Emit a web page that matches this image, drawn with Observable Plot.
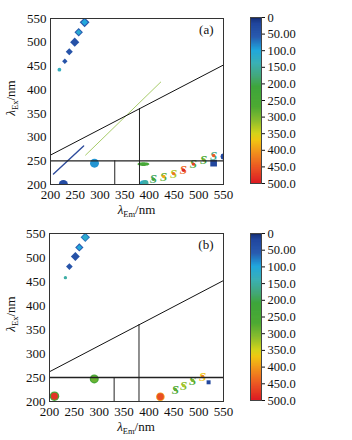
<!DOCTYPE html>
<html><head><meta charset="utf-8">
<script src="https://cdn.jsdelivr.net/npm/d3@7"></script>
<script src="https://cdn.jsdelivr.net/npm/@observablehq/plot@0.6"></script>
<style>
body{margin:0;background:#fff;}
#wrap{position:relative;width:352px;height:440px;overflow:hidden;font-family:"Liberation Serif",serif;}
.p{position:absolute;}
</style></head><body><div id="wrap"></div>
<script>
// ---- axis ticks ----
const axisTicks = [200, 250, 300, 350, 400, 450, 500, 550];
const barTicks = [0, 50, 100, 150, 200, 250, 300, 350, 400, 450, 500];
const barTickLabels = ["0", "50.00", "100.0", "150.0", "200.0", "250.0", "300.0", "350.0", "400.0", "450.0", "500.0"];
// ---- colour ramp ----
const colorStops = [0, 6, 20, 60, 80, 100, 140, 180, 210, 270, 310, 350, 370, 400, 450, 500];
const colorHex = ["#0d1428", "#1a3580", "#22479e", "#2a5cb0", "#2482c8", "#22a8dc", "#3cb0b4", "#44a878", "#3fa63c", "#4eaa34", "#88bc30", "#d4d41c", "#f0c814", "#f29c1c", "#ec5a24", "#dc1c24"];
// ---- region boundaries (Em, Ex in nm) ----
const ruleEx = [250];
const ruleEm = [330, 380];
const ruleEmTop = [250, 360];
const diagEm = [200, 550];
const diagEx = [262, 452];

// ---- panel (a) ----
const aEm  = [218, 229, 238, 249, 257, 269, 257, 269, 226, 289, 530, 550, 388, 392];
const aEx  = [442, 460, 480, 500, 521, 542, 521, 542, 200, 245, 245, 259, 201, 203];
const aVal = [130, 45, 45, 40, 60, 50, 110, 100, 30, 90, 20, 20, 120, 150];
const aR   = [0.6, 1, 1.7, 2.9, 2.5, 3.3, 1.1, 1.5, 3.5, 3.4, 2.4, 1.5, 2.4, 1.6];
const aSym = ["circle", "diamond2", "diamond2", "diamond2", "diamond2", "diamond2", "diamond2", "diamond2", "circle", "circle", "square", "circle", "circle", "circle"];
const aEllEm = [388], aEllEx = [243], aEllVal = [240];
const aSEm = [408, 429, 449, 469, 489, 510, 530];
const aSEx = [211, 217, 223, 230, 243, 252, 261];
const aSOuter = [190, 280, 330, 440, 260, 250, 170];
const aSInner = [230, 390, 430, 490, 470, 300, 450];
const aScatBlueEm = [206, 267], aScatBlueEx = [222, 281];
const aScatGreenEm = [271, 423], aScatGreenEx = [262, 416];

// ---- panel (b) ----
const bEm  = [232, 240, 252, 260, 272, 260, 272, 290, 290, 210, 210, 423, 423, 520];
const bEx  = [458, 481, 502, 521, 542, 521, 542, 247, 247, 211, 211, 210, 210, 240];
const bVal = [150, 45, 40, 55, 70, 100, 115, 250, 290, 240, 480, 400, 460, 20];
const bR   = [0.5, 1.6, 2.9, 2.5, 3.2, 1.1, 1.6, 3.6, 1.8, 4, 2.1, 3.3, 2, 0.9];
const bSym = ["circle", "diamond2", "diamond2", "diamond2", "diamond2", "diamond2", "diamond2", "circle", "circle", "circle", "circle", "circle", "circle", "square"];
const bSEm = [453, 470, 488, 508];
const bSEx = [225, 233, 244, 252];
const bSOuter = [260, 310, 270, 370];
const bSInner = [280, 330, 300, 420];

const colorScale = {type: "linear", domain: colorStops, range: colorHex, interpolate: "rgb"};

const ellipseSymbol = {
  draw(ctx, size) {
    const r = Math.sqrt(size / Math.PI);
    const rx = r * 2.3, ry = r * 0.75, k = 0.5523;
    ctx.moveTo(-rx, 0);
    ctx.bezierCurveTo(-rx, -ry * k, -rx * k, -ry, 0, -ry);
    ctx.bezierCurveTo(rx * k, -ry, rx, -ry * k, rx, 0);
    ctx.bezierCurveTo(rx, ry * k, rx * k, ry, 0, ry);
    ctx.bezierCurveTo(-rx * k, ry, -rx, ry * k, -rx, 0);
    ctx.closePath();
  }
};

function rows(em, ex, extra) {
  return em.map((e, i) => {
    const o = {em: e, ex: ex[i]};
    for (const k in extra) o[k] = extra[k][i];
    return o;
  });
}

function panel(opts) {
  const pts = rows(opts.em, opts.ex, {val: opts.val, r: opts.r, sym: opts.sym});
  const sPts = rows(opts.sEm, opts.sEx, {outer: opts.sOuter, inner: opts.sInner});
  const marks = [];
  if (opts.blue) {
    marks.push(Plot.line(rows(opts.blue[0], opts.blue[1], {}), {x: "em", y: "ex", stroke: "#2e4c9c", strokeWidth: 1.4}));
    marks.push(Plot.line(rows(opts.green[0], opts.green[1], {}), {x: "em", y: "ex", stroke: "#a8cc6a", strokeWidth: 1}));
  }
  if (opts.ell) {
    marks.push(Plot.dot(rows(opts.ell[0], opts.ell[1], {val: opts.ell[2]}), {x: "em", y: "ex", fill: "val", r: 2.6, symbol: ellipseSymbol}));
  }
  for (const s of ["circle", "diamond2", "square"]) {
    marks.push(Plot.dot(pts.filter(d => d.sym === s), {x: "em", y: "ex", fill: "val", r: "r", symbol: s, stroke: "none"}));
  }
  marks.push(Plot.text(sPts, {x: "em", y: "ex", text: () => "S", fill: "outer", fontSize: 13, fontWeight: "bold", fontStyle: "italic", fontFamily: "Liberation Serif"}));
  marks.push(Plot.dot(sPts, {x: "em", y: "ex", fill: "inner", r: 1.7}));
  // boundaries
  marks.push(Plot.ruleY(ruleEx, {stroke: "#222", strokeWidth: 1.3}));
  marks.push(Plot.ruleX(ruleEm, {y1: 200, y2: ruleEmTop, stroke: "#222", strokeWidth: 1}));
  marks.push(Plot.line(rows(diagEm, diagEx, {}), {x: "em", y: "ex", stroke: "#111", strokeWidth: 1}));
  marks.push(Plot.frame({stroke: "#333", strokeWidth: 1}));
  marks.push(Plot.axisX({ticks: axisTicks, tickSize: 0, tickPadding: 5, label: null, fontSize: 13}));
  marks.push(Plot.axisY({ticks: axisTicks, tickSize: 0, tickPadding: 4, label: null, fontSize: 13}));
  marks.push(Plot.text([opts.tag], {frameAnchor: "top-right", dx: -10, dy: 6, text: d => d, fontSize: 13, fontFamily: "Liberation Serif", fill: "#111"}));
  const svg = Plot.plot({
    width: 240, height: 220,
    marginLeft: opts.ml, marginRight: 17, marginTop: opts.mt, marginBottom: opts.mb,
    x: {domain: [200, 550]},
    y: {domain: [200, 550]},
    color: colorScale,
    clip: true,
    style: {fontFamily: "Liberation Serif", fontSize: "13px", color: "#111", background: "transparent", overflow: "visible"},
    marks
  });
  const s = d3.select(svg);
  const cx = (opts.ml + 223) / 2;
  const xl = s.append("text").attr("x", cx).attr("y", 220 - opts.mb + 30).attr("text-anchor", "middle")
    .attr("font-family", "Liberation Serif").attr("font-size", 13).attr("fill", "#111");
  xl.append("tspan").attr("font-style", "italic").text("λ");
  xl.append("tspan").attr("font-size", 8.5).attr("dy", 3).text("Em");
  xl.append("tspan").attr("dy", -3).text("/nm");
  const cy = (opts.mt + 220 - opts.mb) / 2 - 3;
  const yl = s.append("text").attr("transform", `translate(15,${cy}) rotate(-90)`).attr("text-anchor", "middle")
    .attr("font-family", "Liberation Serif").attr("font-size", 13).attr("fill", "#111");
  yl.append("tspan").attr("font-style", "italic").text("λ");
  yl.append("tspan").attr("font-size", 8.5).attr("dy", 3).text("Ex");
  yl.append("tspan").attr("dy", -3).text("/nm");
  return svg;
}

function colorbar(mt, mb) {
  const steps = d3.range(0, 500, 1);
  return Plot.plot({
    width: 112, height: 220,
    marginLeft: 10, marginRight: 91, marginTop: mt, marginBottom: mb,
    x: {domain: [0, 1], axis: null},
    y: {domain: [0, 500], reverse: true},
    color: colorScale,
    style: {fontFamily: "Liberation Serif", fontSize: "12.5px", color: "#111", background: "transparent", overflow: "visible"},
    marks: [
      Plot.rect(steps, {x1: 0, x2: 1, y1: d => d, y2: d => Math.min(500, d + 4), fill: d => d + 0.5}),
      Plot.frame({stroke: "#444", strokeWidth: 1}),
      Plot.axisY({anchor: "right", ticks: barTicks, tickSize: 3, tickPadding: 3, label: null,
        tickFormat: v => barTickLabels[barTicks.indexOf(v)], fontSize: 12.5})
    ]
  });
}

const wrap = document.getElementById("wrap");
function place(el, left, top) {
  const d = document.createElement("div");
  d.className = "p"; d.style.left = left + "px"; d.style.top = top + "px";
  d.appendChild(el); wrap.appendChild(d);
}

place(panel({em: aEm, ex: aEx, val: aVal, r: aR, sym: aSym,
  sEm: aSEm, sEx: aSEx, sOuter: aSOuter, sInner: aSInner,
  blue: [aScatBlueEm, aScatBlueEx], green: [aScatGreenEm, aScatGreenEx],
  ell: [aEllEm, aEllEx, aEllVal], tag: "(a)", ml: 50, mt: 18, mb: 36}), 0, 0);
place(colorbar(17, 37), 240, 0);
place(panel({em: bEm, ex: bEx, val: bVal, r: bR, sym: bSym,
  sEm: bSEm, sEx: bSEx, sOuter: bSOuter, sInner: bSInner,
  tag: "(b)", ml: 49, mt: 13, mb: 39}), 0, 220);
place(colorbar(13, 40), 240, 220);
</script></body></html>
